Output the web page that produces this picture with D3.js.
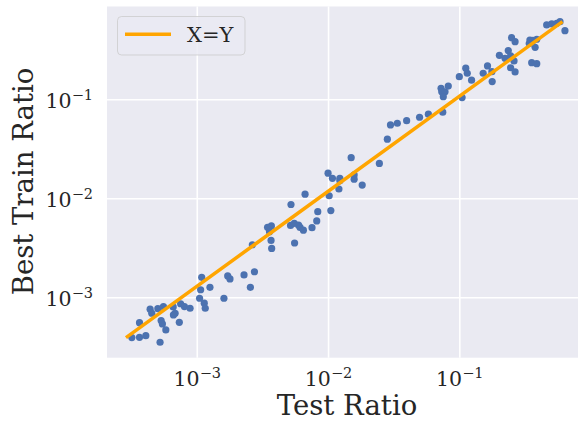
<!DOCTYPE HTML>
<html>
  <head>
    <style>
		body { margin: 0; background: #ffffff; }
		text { font-family: "DejaVu Serif", serif; fill: #262626; }
	</style>
  </head>
  <body>

	<script type="text/javascript" src="https://cdn.jsdelivr.net/npm/d3@7/dist/d3.min.js"></script>

    <script>

		// *** DATA ***

		var testRatio = [
			3.20e-4, 3.66e-4, 4.09e-4, 3.66e-4, 4.41e-4, 4.54e-4, 5.05e-4, 5.57e-4, 5.35e-4, 5.47e-4,
			5.81e-4, 5.25e-4, 6.61e-4, 6.84e-4, 6.64e-4, 7.36e-4, 7.53e-4, 8.05e-4, 8.89e-4, 1.09e-3,
			1.07e-3, 1.26e-3, 1.05e-3, 1.14e-3, 1.16e-3, 1.61e-3, 1.72e-3, 1.79e-3, 2.29e-3, 2.56e-3,
			2.65e-3, 2.75e-3, 3.46e-3, 3.70e-3, 3.58e-3, 3.68e-3, 3.72e-3, 5.22e-3, 5.18e-3, 5.53e-3,
			5.96e-3, 6.12e-3, 6.49e-3, 5.56e-3, 6.68e-3, 7.55e-3, 8.20e-3, 8.35e-3, 1.05e-2, 1.02e-2,
			1.21e-2, 1.00e-2, 1.08e-2, 1.23e-2, 1.23e-2, 1.58e-2, 1.58e-2, 1.82e-2, 1.50e-2, 2.46e-2,
			2.83e-2, 2.99e-2, 3.37e-2, 3.97e-2, 4.98e-2, 5.81e-2, 7.48e-2, 7.26e-2, 7.35e-2, 7.78e-2,
			8.24e-2, 7.55e-2, 0.100, 0.105, 0.112, 0.115, 0.124, 0.152, 0.164, 0.177,
			0.178, 0.202, 0.223, 0.236, 0.246, 0.261, 0.246, 0.266, 0.250, 0.266,
			0.345, 0.341, 0.364, 0.389, 0.378, 0.356, 0.389, 0.463, 0.506, 0.552,
			0.585, 0.638
		];

		var trainRatio = [
			3.91e-4, 3.94e-4, 4.09e-4, 5.53e-4, 7.57e-4, 6.89e-4, 7.67e-4, 8.04e-4, 5.81e-4, 5.37e-4,
			4.68e-4, 3.51e-4, 7.98e-4, 6.89e-4, 6.62e-4, 5.58e-4, 8.59e-4, 8.04e-4, 7.74e-4, 1.59e-3,
			1.19e-3, 1.26e-3, 9.77e-4, 8.70e-4, 7.74e-4, 9.77e-4, 1.64e-3, 1.53e-3, 1.68e-3, 1.26e-3,
			3.39e-3, 1.81e-3, 5.09e-3, 5.25e-3, 4.60e-3, 3.75e-3, 3.11e-3, 8.65e-3, 5.31e-3, 5.58e-3,
			5.34e-3, 5.07e-3, 4.76e-3, 3.53e-3, 1.10e-2, 5.04e-3, 5.90e-3, 7.32e-3, 7.50e-3, 1.06e-2,
			1.24e-2, 1.79e-2, 1.59e-2, 1.59e-2, 1.50e-2, 1.72e-2, 1.56e-2, 1.36e-2, 2.57e-2, 2.25e-2,
			3.95e-2, 5.50e-2, 5.72e-2, 6.08e-2, 6.58e-2, 7.07e-2, 7.41e-2, 0.129, 0.119, 0.119,
			0.136, 0.106, 0.169, 0.104, 0.206, 0.183, 0.156, 0.183, 0.217, 0.190,
			0.151, 0.278, 0.259, 0.310, 0.274, 0.244, 0.208, 0.189, 0.419, 0.382,
			0.397, 0.366, 0.393, 0.404, 0.335, 0.234, 0.229, 0.563, 0.577, 0.586,
			0.608, 0.493
		];

		// X=Y reference line end points
		var lineX = [2.96e-4, 0.596];
		var lineY = [4.0e-4, 0.594];

		var xDomain = [2.07e-4, 0.802];
		var yDomain = [2.45e-4, 0.865];
		var tickValues = [1e-3, 1e-2, 1e-1];
		var tickExps = ['\u22123', '\u22122', '\u22121'];

		var legendLabel = 'X=Y';
		var xLabel = 'Test Ratio';
		var yLabel = 'Best Train Ratio';

		// *** LAYOUT ***

		var W = 578, H = 423;
		var plot = {left: 107, right: 578, top: 6.5, bottom: 357.7};

		var svg = d3.select("body").append("svg")
			.attr("width", W)
			.attr("height", H);

		var x = d3.scaleLog().domain(xDomain).range([plot.left, plot.right]);
		var y = d3.scaleLog().domain(yDomain).range([plot.bottom, plot.top]);

		// background
		svg.append("rect")
			.attr("x", plot.left)
			.attr("y", plot.top)
			.attr("width", plot.right - plot.left)
			.attr("height", plot.bottom - plot.top)
			.style("fill", "#EAEAF2");

		// grid via axes with full-length ticks
		var gx = svg.append("g")
			.attr("transform", "translate(0," + plot.bottom + ")")
			.call(d3.axisBottom(x).tickValues(tickValues).tickSize(-(plot.bottom - plot.top)).tickFormat(""));
		var gy = svg.append("g")
			.attr("transform", "translate(" + plot.left + ",0)")
			.call(d3.axisLeft(y).tickValues(tickValues).tickSize(-(plot.right - plot.left)).tickFormat(""));

		[gx, gy].forEach(function(g){
			g.select(".domain").remove();
			g.selectAll(".tick line").style("stroke", "#ffffff").style("stroke-width", 1.6);
		});

		// tick labels (10 with superscript exponent)
		gx.selectAll(".tick").each(function(d, ii){
			var t = d3.select(this).append("text")
				.attr("y", 28)
				.attr("text-anchor", "middle")
				.style("font-size", "20.5px");
			t.append("tspan").text("10");
			t.append("tspan").attr("dy", -8).style("font-size", "14.5px").text(tickExps[ii]);
		});

		gy.selectAll(".tick").each(function(d, ii){
			var t = d3.select(this).append("text")
				.attr("x", -14)
				.attr("y", 8)
				.attr("text-anchor", "end")
				.style("font-size", "20.5px");
			t.append("tspan").text("10");
			t.append("tspan").attr("dy", -8).style("font-size", "14.5px").text(tickExps[ii]);
		});

		// scatter points
		svg.append("g").selectAll("circle")
			.data(testRatio.map(function(v, ii){ return {tx: v, ty: trainRatio[ii]}; }))
			.enter()
			.append("circle")
				.attr("cx", function(d){ return x(d.tx); })
				.attr("cy", function(d){ return y(d.ty); })
				.attr("r", 3.6)
				.style("fill", "#4C72B0");

		// X=Y line
		svg.append("path")
			.datum(lineX.map(function(v, ii){ return [v, lineY[ii]]; }))
			.attr("d", d3.line().x(function(d){ return x(d[0]); }).y(function(d){ return y(d[1]); }))
			.style("fill", "none")
			.style("stroke", "#FFA500")
			.style("stroke-width", 3.5)
			.style("stroke-linecap", "square");

		// legend
		var lg = svg.append("g");
		lg.append("rect")
			.attr("x", 117.5)
			.attr("y", 16.5)
			.attr("width", 127.5)
			.attr("height", 38.5)
			.attr("rx", 4)
			.style("fill", "#EAEAF2")
			.style("fill-opacity", 0.8)
			.style("stroke", "#CCCCCC")
			.style("stroke-opacity", 0.8)
			.style("stroke-width", 1);
		lg.append("line")
			.attr("x1", 125).attr("x2", 171)
			.attr("y1", 34.3).attr("y2", 34.3)
			.style("stroke", "#FFA500")
			.style("stroke-width", 3.5);
		lg.append("text")
			.attr("x", 187)
			.attr("y", 41.7)
			.style("font-size", "21px")
			.text(legendLabel);

		// axis labels
		svg.append("text")
			.attr("x", 347)
			.attr("y", 415)
			.attr("text-anchor", "middle")
			.style("font-size", "27.5px")
			.text(xLabel);

		svg.append("text")
			.attr("transform", "translate(33.3,181.5) rotate(-90)")
			.attr("text-anchor", "middle")
			.style("font-size", "27.5px")
			.text(yLabel);

	</script>
  </body>
</html>
